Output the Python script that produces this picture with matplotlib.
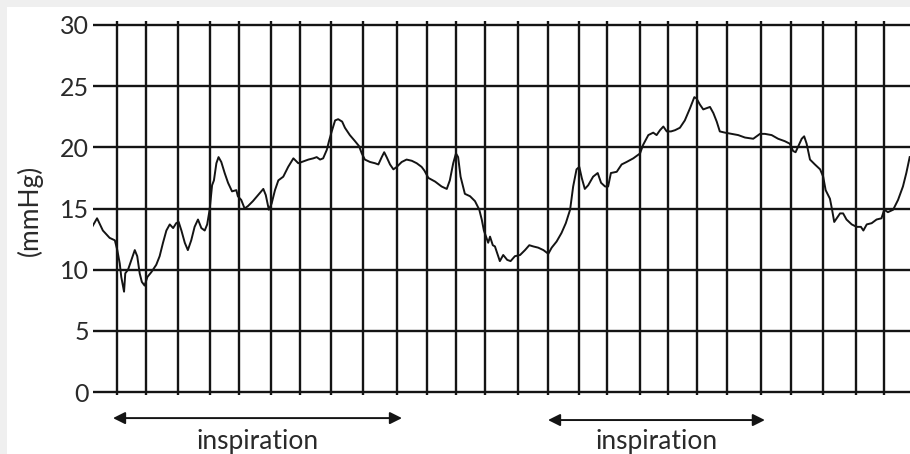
import matplotlib
matplotlib.use("Agg")
import matplotlib.pyplot as plt
from matplotlib.patches import Rectangle

# ---- data (time in chart divisions, pressure in mmHg) ----
time = [-0.81, -0.65, -0.46, -0.24, -0.07, 0.01, 0.09, 0.14, 0.23, 0.27, 0.36, 0.47, 0.58, 0.66,
        0.74, 0.81, 0.90, 0.99, 1.12, 1.28, 1.39, 1.50, 1.61, 1.72, 1.83, 1.93, 2.01, 2.10, 2.21,
        2.31, 2.42, 2.53, 2.64, 2.75, 2.86, 2.94, 3.02, 3.10, 3.16, 3.24, 3.31, 3.40, 3.51, 3.62,
        3.75, 3.89, 3.94, 4.05, 4.16, 4.27, 4.43, 4.60, 4.77, 4.85, 4.95, 5.04, 5.15, 5.26, 5.42,
        5.58, 5.75, 5.91, 6.02, 6.24, 6.40, 6.51, 6.62, 6.72, 6.84, 6.91, 7.00, 7.11, 7.21, 7.34,
        7.43, 7.59, 7.76, 7.89, 7.98, 8.08, 8.25, 8.41, 8.52, 8.63, 8.71, 8.79, 8.90, 9.01, 9.12,
        9.28, 9.44, 9.61, 9.77, 9.93, 10.02, 10.15, 10.37, 10.58, 10.75, 10.85, 10.96, 11.05,
        11.12, 11.20, 11.34, 11.51, 11.67, 11.81, 11.89, 11.96, 12.03, 12.10, 12.16, 12.25, 12.32,
        12.40, 12.48, 12.59, 12.72, 12.83, 12.97, 13.14, 13.30, 13.44, 13.57, 13.73, 13.90, 14.06,
        14.17, 14.33, 14.49, 14.63, 14.77, 14.87, 14.98, 15.07, 15.15, 15.25, 15.36, 15.52, 15.67,
        15.78, 15.91, 16.01, 16.10, 16.29, 16.45, 16.61, 16.83, 17.05, 17.15, 17.32, 17.48, 17.59,
        17.70, 17.81, 17.92, 18.06, 18.19, 18.35, 18.51, 18.68, 18.82, 18.89, 19.00, 19.11, 19.22,
        19.33, 19.44, 19.55, 19.65, 19.82, 20.04, 20.25, 20.47, 20.74, 20.96, 21.12, 21.34, 21.55,
        21.77, 21.93, 22.04, 22.12, 22.21, 22.32, 22.40, 22.48, 22.59, 22.75, 22.92, 23.02, 23.10,
        23.24, 23.31, 23.38, 23.46, 23.57, 23.67, 23.78, 23.95, 24.11, 24.25, 24.33, 24.44, 24.60,
        24.76, 24.92, 25.01, 25.13, 25.30, 25.46, 25.62, 25.73, 25.84]
pressure = [13.5, 14.2, 13.2, 12.6, 12.4, 11.6, 10.5, 9.4, 8.2, 9.7, 10.0, 10.8, 11.6, 11.1,
            9.7, 9.0, 8.7, 9.4, 9.8, 10.4, 11.1, 12.2, 13.2, 13.7, 13.4, 13.8, 13.9, 13.2, 12.2,
            11.6, 12.4, 13.5, 14.1, 13.4, 13.2, 13.7, 14.9, 16.9, 17.3, 18.7, 19.2, 18.8, 17.9, 17.1,
            16.4, 16.5, 16.0, 15.7, 15.0, 15.2, 15.6, 16.1, 16.6, 16.1, 14.9, 15.4, 16.5, 17.3, 17.6,
            18.4, 19.1, 18.7, 18.8, 19.0, 19.1, 19.2, 19.0, 19.1, 19.8, 20.5, 21.3, 22.2, 22.3, 22.1,
            21.6, 21.0, 20.5, 20.1, 19.5, 19.0, 18.8, 18.7, 18.6, 19.2, 19.6, 19.2, 18.6, 18.2, 18.4,
            18.8, 19.0, 18.9, 18.7, 18.4, 18.1, 17.5, 17.2, 16.8, 16.6, 17.3, 18.7, 19.5,
            19.2, 17.6, 16.2, 16.0, 15.6, 14.9, 14.1, 13.2, 12.7, 12.2, 12.7, 12.0, 11.9,
            11.3, 10.7, 11.2, 10.8, 10.7, 11.1, 11.2, 11.6, 12.0, 11.9, 11.8, 11.6, 11.3,
            11.8, 12.3, 13.0, 13.8, 14.9, 16.8, 18.2, 18.4, 17.5, 16.6, 16.9, 17.6, 17.9,
            17.1, 16.8, 16.8, 17.9, 18.0, 18.6, 18.8, 19.1, 19.5, 20.2, 21.0, 21.2, 21.0,
            21.4, 21.7, 21.3, 21.3, 21.4, 21.6, 22.2, 23.2, 24.1, 24.0, 23.5, 23.1, 23.2,
            23.3, 22.8, 22.1, 21.3, 21.2, 21.1, 21.0, 20.8, 20.7, 21.1, 21.1, 21.0, 20.7,
            20.5, 20.3, 19.7, 19.6, 20.1, 20.7, 20.9, 20.3, 19.0, 18.6, 18.2, 17.6, 16.5,
            15.8, 14.9, 13.9, 14.2, 14.6, 14.6, 14.1, 13.7, 13.5, 13.5, 13.2, 13.7, 13.8,
            14.1, 14.2, 14.9, 14.7, 14.9, 15.7, 16.8, 17.9, 19.2]

# chart-paper divisions (hand-drawn, slightly irregular)
divisions = [0.0, 0.95, 1.99, 3.03, 3.98, 5.02, 5.96, 6.98, 8.02, 9.13, 10.10, 11.05, 11.99,
             13.07, 14.05, 15.05, 15.97, 17.05, 17.96, 18.90, 19.88, 20.99, 21.97, 23.01,
             24.09, 25.0]
pressure_ticks = [0, 5, 10, 15, 20, 25, 30]
tick_labels = ["0", "5", "10", "15", "20", "25", "30"]
y_label = "(mmHg)"
phase_label = "inspiration"
phases = [(-0.13, 9.29), (14.05, 21.12)]

plt.rcParams['font.family'] = ['Lato', 'DejaVu Sans']

fig = plt.figure(figsize=(9.1, 4.54), dpi=100, facecolor='white')
# thin grey scan border on top and left
fig.patches.append(Rectangle((0, 1 - 7 / 454), 1, 7 / 454, transform=fig.transFigure,
                             facecolor='#efefef', edgecolor='none', zorder=-10))
fig.patches.append(Rectangle((0, 0), 7 / 910, 1, transform=fig.transFigure,
                             facecolor='#efefef', edgecolor='none', zorder=-10))

ax = fig.add_axes([93 / 910, 1 - 395.7 / 454, (910 - 93) / 910, (395.7 - 21.3) / 454])
ax.set_facecolor('none')
xmin, xmax = -0.782, 25.85
ax.set_xlim(xmin, xmax)
ax.set_ylim(-0.3, 30.3)

ink = '#141414'
text_col = '#2a2a2a'
ax.hlines(pressure_ticks, xmin, xmax, color=ink, lw=1.7, zorder=1)
ax.vlines(divisions, -0.25, 30.3, color=ink, lw=1.7, zorder=1)
ax.plot(time, pressure, color=ink, lw=1.4, solid_joinstyle='round', zorder=3)

for s in ax.spines.values():
    s.set_visible(False)
ax.set_xticks([])
ax.set_yticks(pressure_ticks)
ax.set_yticklabels(tick_labels, fontsize=18, color=text_col)
ax.tick_params(axis='y', length=0, pad=3)

fig.text(30 / 910, 1 - 210 / 454, y_label, rotation=90, ha='center', va='center',
         fontsize=19, color=text_col)

for (a, b), ya in zip(phases, [-2.13, -2.29]):
    ax.annotate('', xy=(a, ya), xytext=(b, ya), annotation_clip=False,
                arrowprops=dict(arrowstyle='<|-|>', mutation_scale=18, lw=1.4, color=ink,
                                shrinkA=0, shrinkB=0))
    ax.text((a + b) / 2, -4.05, phase_label, ha='center', va='center', fontsize=19,
            color=text_col, clip_on=False)

fig.savefig('out.png', dpi=100, facecolor=fig.get_facecolor())
